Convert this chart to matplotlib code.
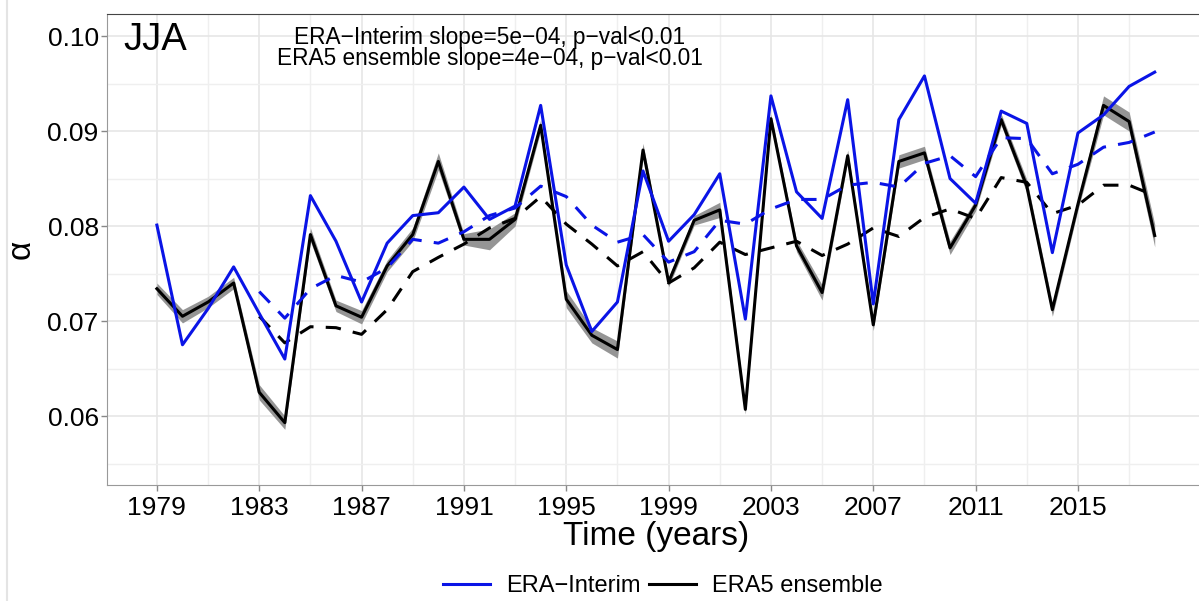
import numpy as np
import matplotlib
matplotlib.use('Agg')
import matplotlib.pyplot as plt
from matplotlib.lines import Line2D

plt.rcParams['font.family'] = ['Liberation Sans', 'DejaVu Sans']

# data
years = np.arange(1979, 2019)
era_interim = [0.0801, 0.0675, 0.0713, 0.0757, 0.0708, 0.0660, 0.0832, 0.0784, 0.0720, 0.0782,
               0.0811, 0.0814, 0.0841, 0.0807, 0.0821, 0.0927, 0.0759, 0.0689, 0.0720, 0.0858,
               0.0784, 0.0812, 0.0855, 0.0702, 0.0937, 0.0836, 0.0808, 0.0933, 0.0718, 0.0912,
               0.0958, 0.0850, 0.0824, 0.0921, 0.0908, 0.0772, 0.0898, 0.0917, 0.0947, 0.0962]
era5_ens = [0.0734, 0.0705, 0.0720, 0.0740, 0.0625, 0.0593, 0.0791, 0.0716, 0.0704, 0.0758,
            0.0791, 0.0868, 0.0786, 0.0786, 0.0807, 0.0906, 0.0723, 0.0685, 0.0670, 0.0880,
            0.0741, 0.0806, 0.0817, 0.0607, 0.0913, 0.0779, 0.0730, 0.0874, 0.0696, 0.0868,
            0.0877, 0.0777, 0.0822, 0.0912, 0.0842, 0.0712, 0.0823, 0.0927, 0.0910, 0.0790]
era5_spread = [0.0006, 0.0007, 0.0006, 0.0006, 0.0008, 0.0007, 0.0007, 0.0006, 0.0007, 0.0006,
               0.0007, 0.0009, 0.0006, 0.0011, 0.0007, 0.0006, 0.0009, 0.0008, 0.0009, 0.0007,
               0.0005, 0.0005, 0.0008, 0.0005, 0.0005, 0.0006, 0.0008, 0.0006, 0.0006, 0.0007,
               0.0007, 0.0007, 0.0006, 0.0006, 0.0007, 0.0007, 0.0006, 0.0010, 0.0010, 0.0012]

# 5-year (trailing) smoothed curves, 1983-2018
smooth_years = np.arange(1983, 2019)
era_interim_smooth = [0.0731, 0.0703, 0.0734, 0.0748, 0.0741, 0.0756, 0.0786, 0.0782, 0.0794,
                      0.0811, 0.0819, 0.0842, 0.0831, 0.0801, 0.0783, 0.0791, 0.0762, 0.0773,
                      0.0806, 0.0802, 0.0818, 0.0828, 0.0828, 0.0843, 0.0846, 0.0841, 0.0866,
                      0.0874, 0.0852, 0.0893, 0.0892, 0.0855, 0.0865, 0.0883, 0.0888, 0.0899]
era5_smooth = [0.0705, 0.0677, 0.0694, 0.0693, 0.0686, 0.0712, 0.0752, 0.0767, 0.0781,
               0.0798, 0.0808, 0.0831, 0.0802, 0.0781, 0.0758, 0.0773, 0.0740, 0.0756,
               0.0783, 0.0770, 0.0777, 0.0784, 0.0769, 0.0781, 0.0798, 0.0789, 0.0809,
               0.0818, 0.0808, 0.0851, 0.0846, 0.0813, 0.0822, 0.0843, 0.0843, 0.0832]

x_ticks = [1979, 1983, 1987, 1991, 1995, 1999, 2003, 2007, 2011, 2015]
y_ticks = [0.06, 0.07, 0.08, 0.09, 0.10]

blue = '#0a14e6'
lw = 2.2

fig = plt.figure(figsize=(11.99, 6.01), dpi=100)
ax = fig.add_axes([107 / 1199, 1 - 485 / 601, (1204.6 - 107) / 1199, (485 - 14) / 601])

lo = np.array(era5_ens) - np.array(era5_spread)
hi = np.array(era5_ens) + np.array(era5_spread)
ax.fill_between(years, lo, hi, color='#8a8a8a', alpha=0.9, lw=0, zorder=2)
ax.plot(years, era5_ens, color='black', lw=lw, zorder=3)
ax.plot(years, era_interim, color=blue, lw=lw, zorder=4)
ax.plot(smooth_years, era5_smooth, color='black', lw=lw, dashes=(5, 4), zorder=3)
ax.plot(smooth_years, era_interim_smooth, color=blue, lw=lw, dashes=(5, 4), zorder=4)

ax.set_xlim(1977.05, 2019.95)
ax.set_ylim(0.05274, 0.10232)
ax.set_xticks(x_ticks)
ax.set_xticks(np.arange(1981, 2020, 4), minor=True)
ax.set_yticks(y_ticks)
ax.set_yticks([0.055, 0.065, 0.075, 0.085, 0.095], minor=True)
ax.set_yticklabels(['%.2f' % v for v in y_ticks])
ax.grid(True, which='major', color='#e6e6e6', lw=1.2, zorder=0)
ax.grid(True, which='minor', color='#efefef', lw=1.0, zorder=0)
ax.set_axisbelow(True)
ax.tick_params(which='major', length=4, width=1, color='#888888', labelsize=19, pad=2)
ax.tick_params(axis='x', which='major', pad=4)
ax.tick_params(which='minor', length=0)
for side in ['left', 'bottom']:
    ax.spines[side].set_color('#999999')
ax.spines['top'].set_color('#444444')
ax.spines['right'].set_visible(False)

ax.set_xlabel('Time (years)', fontsize=24, labelpad=1)
ax.set_ylabel('α', fontsize=24, labelpad=8)

ax.text(0.015, 0.9236, 'JJA', transform=ax.transAxes, fontsize=27.5, va='baseline', ha='left')
ax.text(1992, 0.09916, 'ERA\u2212Interim slope=5e\u221204, p\u2212val<0.01', fontsize=16.3,
        ha='center', va='baseline')
ax.text(1992, 0.09695, 'ERA5 ensemble slope=4e\u221204, p\u2212val<0.01', fontsize=16.3,
        ha='center', va='baseline')

handles = [Line2D([], [], color=blue, lw=lw), Line2D([], [], color='black', lw=lw)]
fig.legend(handles, ['ERA\u2212Interim', 'ERA5 ensemble'], loc='center',
           bbox_to_anchor=(0.553, 1 - 586 / 601), ncol=2, frameon=False, fontsize=17,
           handlelength=2.0, handletextpad=0.68, columnspacing=0.34)

fig.add_artist(Line2D([7 / 1199, 7 / 1199], [0, 1], color='#e4e4e4', lw=1.5))

fig.savefig('out.png', dpi=100)
